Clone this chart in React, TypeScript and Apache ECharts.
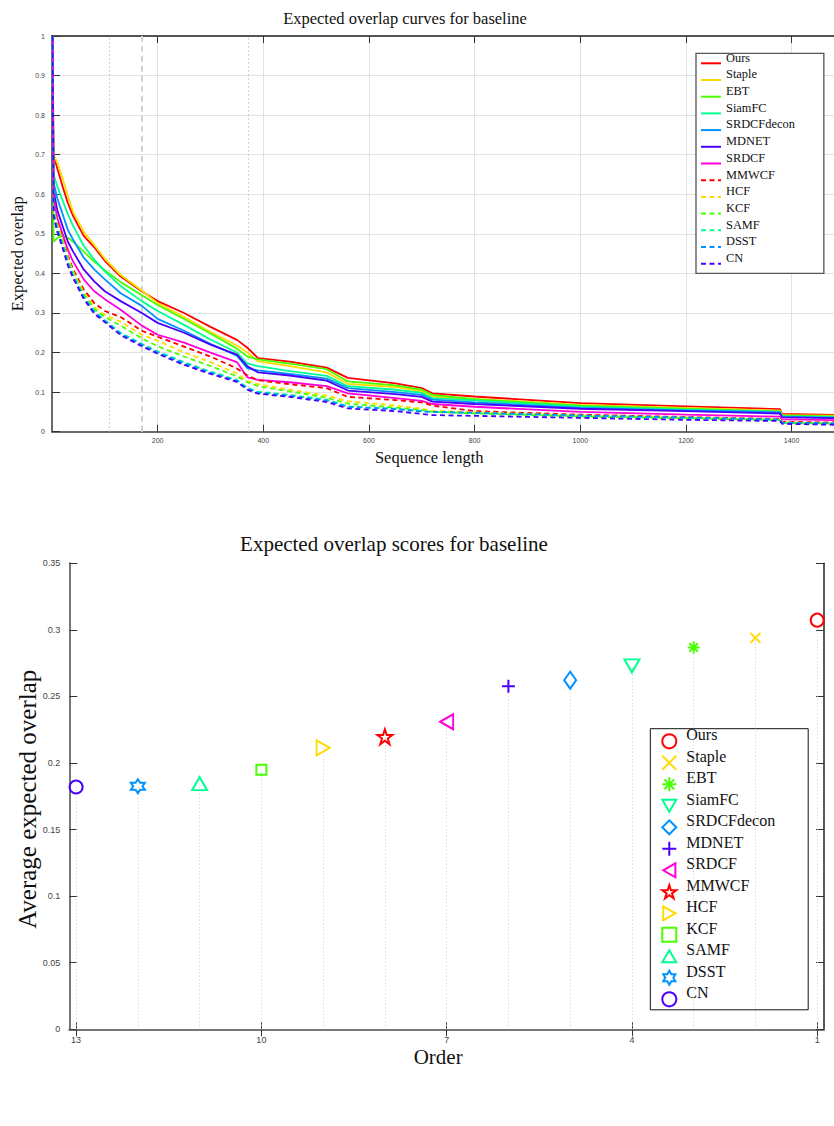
import React, { useEffect, useRef } from "react";
import * as echarts from "echarts";

// ---------------- Data: panel (a) expected overlap curves ----------------
const methods = ["Ours", "Staple", "EBT", "SiamFC", "SRDCFdecon", "MDNET", "SRDCF", "MMWCF", "HCF", "KCF", "SAMF", "DSST", "CN"];

const seqLength = [1, 3, 10, 20, 30, 40, 60, 80, 100, 130, 170, 200, 250, 300, 350, 370, 390, 450, 520, 560, 650, 700, 720, 800, 1000, 1200, 1378, 1382, 1500];

const curveOurs = [1, 0.700, 0.665, 0.620, 0.578, 0.545, 0.495, 0.466, 0.432, 0.392, 0.355, 0.330, 0.300, 0.265, 0.232, 0.212, 0.186, 0.177, 0.162, 0.136, 0.122, 0.110, 0.097, 0.089, 0.072, 0.064, 0.057, 0.045, 0.042];
const curveStaple = [1, 0.700, 0.680, 0.640, 0.595, 0.555, 0.505, 0.472, 0.437, 0.396, 0.357, 0.325, 0.290, 0.252, 0.218, 0.200, 0.178, 0.166, 0.150, 0.121, 0.113, 0.102, 0.089, 0.083, 0.068, 0.060, 0.053, 0.042, 0.040];
const curveEBT = [1, 0.480, 0.490, 0.495, 0.490, 0.480, 0.455, 0.430, 0.408, 0.378, 0.345, 0.320, 0.285, 0.248, 0.210, 0.190, 0.183, 0.172, 0.158, 0.127, 0.117, 0.106, 0.093, 0.082, 0.066, 0.058, 0.051, 0.041, 0.038];
const curveSiamFC = [1, 0.650, 0.620, 0.585, 0.550, 0.520, 0.470, 0.435, 0.405, 0.368, 0.330, 0.305, 0.270, 0.233, 0.200, 0.172, 0.166, 0.153, 0.141, 0.115, 0.106, 0.098, 0.085, 0.079, 0.063, 0.056, 0.050, 0.039, 0.036];
const curveSRDCFdecon = [1, 0.630, 0.590, 0.550, 0.510, 0.485, 0.440, 0.410, 0.385, 0.350, 0.318, 0.285, 0.255, 0.222, 0.192, 0.160, 0.155, 0.146, 0.134, 0.110, 0.100, 0.093, 0.081, 0.074, 0.060, 0.054, 0.049, 0.038, 0.035];
const curveMDNET = [1, 0.610, 0.560, 0.520, 0.480, 0.455, 0.410, 0.380, 0.355, 0.330, 0.300, 0.275, 0.250, 0.220, 0.195, 0.165, 0.150, 0.142, 0.129, 0.104, 0.095, 0.088, 0.076, 0.070, 0.058, 0.052, 0.046, 0.036, 0.034];
const curveSRDCF = [1, 0.590, 0.540, 0.500, 0.460, 0.430, 0.385, 0.355, 0.335, 0.308, 0.268, 0.245, 0.225, 0.200, 0.176, 0.137, 0.131, 0.125, 0.115, 0.097, 0.085, 0.078, 0.070, 0.063, 0.050, 0.043, 0.038, 0.031, 0.029];
const curveMMWCF = [1, 0.570, 0.530, 0.490, 0.445, 0.410, 0.360, 0.325, 0.305, 0.290, 0.255, 0.240, 0.215, 0.190, 0.160, 0.142, 0.130, 0.120, 0.110, 0.088, 0.080, 0.074, 0.066, 0.052, 0.043, 0.037, 0.032, 0.025, 0.023];
const curveHCF = [1, 0.565, 0.525, 0.485, 0.440, 0.405, 0.352, 0.315, 0.295, 0.278, 0.245, 0.230, 0.200, 0.176, 0.147, 0.128, 0.120, 0.106, 0.091, 0.077, 0.066, 0.058, 0.053, 0.049, 0.041, 0.036, 0.031, 0.024, 0.021];
const curveKCF = [1, 0.560, 0.520, 0.480, 0.435, 0.400, 0.348, 0.310, 0.290, 0.268, 0.236, 0.216, 0.190, 0.166, 0.140, 0.125, 0.115, 0.102, 0.086, 0.071, 0.061, 0.055, 0.050, 0.046, 0.038, 0.034, 0.029, 0.022, 0.020];
const curveSAMF = [1, 0.555, 0.515, 0.475, 0.430, 0.395, 0.343, 0.305, 0.282, 0.250, 0.222, 0.203, 0.176, 0.152, 0.131, 0.111, 0.101, 0.093, 0.081, 0.064, 0.058, 0.052, 0.050, 0.047, 0.040, 0.035, 0.030, 0.022, 0.020];
const curveDSST = [1, 0.550, 0.510, 0.470, 0.425, 0.392, 0.340, 0.302, 0.280, 0.247, 0.220, 0.200, 0.173, 0.149, 0.129, 0.109, 0.099, 0.091, 0.079, 0.063, 0.057, 0.051, 0.050, 0.048, 0.041, 0.036, 0.031, 0.023, 0.021];
const curveCN = [1, 0.545, 0.505, 0.465, 0.420, 0.388, 0.336, 0.298, 0.277, 0.244, 0.216, 0.197, 0.169, 0.146, 0.126, 0.106, 0.096, 0.088, 0.075, 0.059, 0.052, 0.045, 0.042, 0.040, 0.035, 0.030, 0.027, 0.020, 0.017];

const curves = [curveOurs, curveStaple, curveEBT, curveSiamFC, curveSRDCFdecon, curveMDNET, curveSRDCF, curveMMWCF, curveHCF, curveKCF, curveSAMF, curveDSST, curveCN];

// sequence-length range markers
const rangeLow = 109;
const rangeHigh = 371;
const rangePeak = 169;

const seqTicks = { min: 0, max: 1500, interval: 200 };
const overlapTicks = { min: 0, max: 1, interval: 0.1 };

// ---------------- Data: panel (b) expected overlap scores ----------------
const orderRank = [1, 2, 3, 4, 5, 6, 7, 8, 9, 10, 11, 12, 13];
const eaoScores = [0.3073, 0.2940, 0.2868, 0.2730, 0.2622, 0.2577, 0.2310, 0.2197, 0.2114, 0.1950, 0.1845, 0.1826, 0.1820];
const orderTickLabels = [1, 4, 7, 10, 13];
const scoreTicks = { min: 0, max: 0.35, interval: 0.05 };

// ---------------- Styling ----------------
const palette = ["#FF0000", "#FFDB00", "#49FF00", "#00FF92", "#0092FF", "#4900FF", "#FF00DB"];
const serif = '"Liberation Serif", "Times New Roman", serif';
const sans = '"Liberation Sans", Arial, sans-serif';

function starPath(points: number, inner: number): string {
  const pts: string[] = [];
  for (let i = 0; i < points * 2; i++) {
    const a = (-90 + (i * 180) / points) * (Math.PI / 180);
    const r = i % 2 === 0 ? 10 : 10 * inner;
    pts.push(`${(10 + r * Math.cos(a)).toFixed(3)},${(10 + r * Math.sin(a)).toFixed(3)}`);
  }
  return "path://M" + pts.join("L") + "Z";
}

const markerSymbols: string[] = [
  "circle",
  "path://M0,0L10,10M10,0L0,10",
  "path://M5,0L5,10M0,5L10,5M1.5,1.5L8.5,8.5M8.5,1.5L1.5,8.5",
  "path://M0,0L10,0L5,8.66Z",
  "diamond",
  "path://M5,0L5,10M0,5L10,5",
  "path://M0,5L8.66,0L8.66,10Z",
  starPath(5, 0.382),
  "path://M0,0L8.66,5L0,10Z",
  "rect",
  "path://M5,0L10,8.66L0,8.66Z",
  starPath(6, 0.577),
  "circle",
];
const markerSizes: (number | number[])[] = [13, 10, 12, [15, 13], [12, 17], 13, [13, 15], 15, [13, 15], 10, [15, 13], 14, 13];

export default function App() {
  const ref = useRef<HTMLDivElement>(null);

  useEffect(() => {
    if (!ref.current) return;
    const chart = echarts.init(ref.current, undefined, { renderer: "svg" });

    const lineSeries = methods.map((m, i) => {
      const color = palette[i % 7];
      const s: any = {
        type: "line",
        name: m,
        xAxisIndex: 0,
        yAxisIndex: 0,
        symbol: "none",
        showSymbol: false,
        silent: true,
        z: 10 + i,
        data: seqLength.map((x, j) => [x, curves[i][j]]),
        lineStyle: { color, width: 1.8, type: i < 7 ? "solid" : [5, 3.5] },
        itemStyle: { color },
      };
      if (i === 0) {
        s.markLine = {
          silent: true,
          symbol: ["none", "none"],
          label: { show: false },
          data: [
            { xAxis: rangeLow, lineStyle: { type: [1.5, 2.5], color: "#c4c4c4", width: 1 } },
            { xAxis: rangeHigh, lineStyle: { type: [1.5, 2.5], color: "#c4c4c4", width: 1 } },
            { xAxis: rangePeak, lineStyle: { type: [6, 4], color: "#d2d2d2", width: 2 } },
          ],
        };
      }
      return s;
    });

    const scatterSeries = methods.map((m, i) => {
      const color = palette[i % 7];
      return {
        type: "scatter",
        name: "b:" + m,
        xAxisIndex: 2,
        yAxisIndex: 1,
        symbol: markerSymbols[i],
        symbolSize: markerSizes[i],
        silent: true,
        z: 5,
        data: [[orderRank[i], eaoScores[i]]],
        itemStyle: { color: "rgba(0,0,0,0)", borderColor: color, borderWidth: 2, opacity: 1 },
        markLine: {
          silent: true,
          symbol: ["none", "none"],
          label: { show: false },
          lineStyle: { type: [1, 2.5], color: "#cfcfcf", width: 1 },
          data: [[{ coord: [orderRank[i], 0] }, { coord: [orderRank[i], eaoScores[i]] }]],
        },
      };
    });

    const tickLabelA = { fontFamily: sans, fontSize: 7, color: "#444" };
    const tickLabelB = { fontFamily: sans, fontSize: 9, color: "#444" };

    const option: any = {
      animation: false,
      backgroundColor: "#ffffff",
      title: [
        {
          text: "Expected overlap curves for baseline",
          left: 405,
          top: 10,
          textAlign: "center",
          padding: 0,
          textStyle: { fontFamily: serif, fontSize: 16.5, fontWeight: "normal", color: "#111" },
        },
        {
          text: "Expected overlap scores for baseline",
          left: 394,
          top: 533,
          textAlign: "center",
          padding: 0,
          textStyle: { fontFamily: serif, fontSize: 21, fontWeight: "normal", color: "#111" },
        },
      ],
      grid: [
        { left: 52, top: 36, right: -10.4, bottom: 694.3, containLabel: false, outerBoundsMode: "none" },
        { left: 69.3, top: 563.3, right: 10, bottom: 96.7, containLabel: false, outerBoundsMode: "none" },
      ],
      xAxis: [
        {
          type: "value",
          gridIndex: 0,
          position: "bottom",
          ...seqTicks,
          name: "Sequence length",
          nameLocation: "middle",
          nameGap: 17,
          nameTextStyle: { fontFamily: serif, fontSize: 16.5, color: "#111", padding: [0, 38, 0, 0] },
          axisLine: { show: true, lineStyle: { color: "#6a6a6a", width: 2 } },
          axisTick: { show: true, inside: true, length: 7, lineStyle: { color: "#333", width: 1 } },
          axisLabel: { ...tickLabelA, margin: 5, showMinLabel: false, showMaxLabel: false, formatter: (v: number) => String(v) },
          splitLine: { show: true, lineStyle: { color: "#e2e2e2", width: 1 } },
        },
        {
          type: "value",
          gridIndex: 0,
          position: "top",
          ...seqTicks,
          axisLine: { show: true, lineStyle: { color: "#222", width: 1.5 } },
          axisTick: { show: true, inside: true, length: 7, lineStyle: { color: "#333", width: 1 } },
          axisLabel: { show: false },
          splitLine: { show: false },
        },
        {
          type: "value",
          gridIndex: 1,
          position: "bottom",
          inverse: true,
          min: 0.89,
          max: 13.11,
          name: "Order",
          nameLocation: "middle",
          nameGap: 17,
          nameTextStyle: { fontFamily: serif, fontSize: 21, color: "#111", padding: [0, 17, 0, 0] },
          axisLine: { show: true, lineStyle: { color: "#777", width: 2 } },
          axisTick: { show: true, inside: true, length: 7, customValues: orderTickLabels, lineStyle: { color: "#333", width: 1 } },
          axisLabel: { ...tickLabelB, margin: 6, customValues: orderTickLabels },
          splitLine: { show: false },
        },
        {
          type: "value",
          gridIndex: 1,
          position: "top",
          inverse: true,
          min: 0.89,
          max: 13.11,
          axisLine: { show: true, lineStyle: { color: "#777", width: 1.5 } },
          axisTick: { show: true, inside: true, length: 7, customValues: orderTickLabels, lineStyle: { color: "#333", width: 1 } },
          axisLabel: { show: false, customValues: orderTickLabels },
          splitLine: { show: false },
        },
      ],
      yAxis: [
        {
          type: "value",
          gridIndex: 0,
          position: "left",
          ...overlapTicks,
          name: "Expected overlap",
          nameLocation: "middle",
          nameGap: 26,
          nameMoveOverlap: false,
          nameTextStyle: { fontFamily: serif, fontSize: 16.5, color: "#111", padding: [0, 40, 0, 0] },
          axisLine: { show: true, lineStyle: { color: "#6a6a6a", width: 2 } },
          axisTick: { show: true, inside: true, length: 8, lineStyle: { color: "#333", width: 1 } },
          axisLabel: { ...tickLabelA, margin: 7 },
          splitLine: { show: true, lineStyle: { color: "#e2e2e2", width: 1 } },
        },
        {
          type: "value",
          gridIndex: 1,
          position: "left",
          ...scoreTicks,
          name: "Average expected overlap",
          nameLocation: "middle",
          nameGap: 29,
          nameMoveOverlap: false,
          nameTextStyle: { fontFamily: serif, fontSize: 25, color: "#111", padding: [0, 6, 0, 0] },
          axisLine: { show: true, lineStyle: { color: "#777", width: 2 } },
          axisTick: { show: true, inside: true, length: 8, lineStyle: { color: "#333", width: 1 } },
          axisLabel: { ...tickLabelB, margin: 9 },
          splitLine: { show: false },
        },
        {
          type: "value",
          gridIndex: 1,
          position: "right",
          ...scoreTicks,
          axisLine: { show: true, lineStyle: { color: "#222", width: 1.5 } },
          axisTick: { show: true, inside: true, length: 8, lineStyle: { color: "#333", width: 1 } },
          axisLabel: { show: false },
          splitLine: { show: false },
        },
      ],
      legend: [
        {
          data: methods,
          formatter: (n: string) => n + "\n",
          orient: "vertical",
          left: 696,
          top: 53.3,
          itemWidth: 20,
          itemHeight: 10,
          itemGap: -6.7,
          padding: [-1.7, 29, -2.1, 4],
          backgroundColor: "#ffffff",
          borderColor: "#555",
          borderWidth: 1.3,
          selectedMode: false,
          itemStyle: { color: "rgba(0,0,0,0)", borderColor: "rgba(0,0,0,0)", borderWidth: 0, opacity: 0 },
          textStyle: {
            fontFamily: serif,
            fontSize: 12.4,
            color: "#111",
            lineHeight: 11.4,
          },
        },
        {
          data: methods.map((m) => "b:" + m),
          formatter: (n: string) => n.slice(2) + "\n",
          orient: "vertical",
          left: 650.3,
          top: 728.7,
          itemWidth: 14,
          itemHeight: 14,
          itemGap: -7.9,
          padding: [-2.1, 33, -4.2, 11],
          backgroundColor: "#ffffff",
          borderColor: "#111",
          borderWidth: 1,
          selectedMode: false,
          itemStyle: { borderWidth: 2 },
          textStyle: {
            fontFamily: serif,
            fontSize: 16,
            color: "#111",
            lineHeight: 13.4,
            padding: [0, 0, 0, 5],
          },
        },
      ],
      series: [...lineSeries, ...scatterSeries],
    };

    chart.setOption(option);
    return () => chart.dispose();
  }, []);

  return (
    <div style={{ position: "absolute", left: 0, top: 0, width: 834, height: 1126, overflow: "hidden", background: "#fff" }}>
      <div ref={ref} style={{ width: 834, height: 1126 }} />
    </div>
  );
}
